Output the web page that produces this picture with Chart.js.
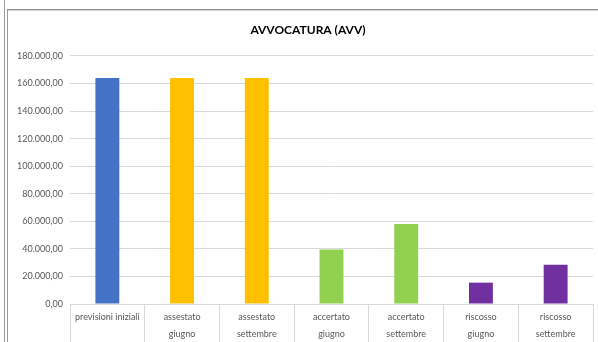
<!DOCTYPE html>
<html>
<head>
<meta charset="utf-8">
<script src="https://cdn.jsdelivr.net/npm/chart.js@4/dist/chart.umd.min.js"></script>
<style>
  html, body { margin: 0; padding: 0; background: #ffffff; }
  body { width: 598px; height: 342px; position: relative; overflow: hidden; }
  .vline1 { position: absolute; left: 4px; top: 0; width: 1px; height: 342px; background: #9c9c9c; }
  .vline2 { position: absolute; left: 7px; top: 9px; width: 1px; height: 333px; background: #9c9c9c; }
  .hline { position: absolute; left: 7px; top: 9px; width: 591px; height: 1px; background: #8f8f8f; }
  .hline2 { position: absolute; left: 8px; top: 10px; width: 590px; height: 1px; background: #d6d6d6; }
  #wrap { position: absolute; left: 8px; top: 10px; width: 590px; height: 332px; }
</style>
</head>
<body>
<div class="vline1"></div>
<div class="vline2"></div>
<div class="hline"></div>
<div class="hline2"></div>
<div id="wrap"><canvas id="c"></canvas></div>
<script>
const chartTitle = "AVVOCATURA (AVV)";
const categories = [
  ["previsioni iniziali"],
  ["assestato", "giugno"],
  ["assestato", "settembre"],
  ["accertato", "giugno"],
  ["accertato", "settembre"],
  ["riscosso", "giugno"],
  ["riscosso", "settembre"]
];
const values = [164000, 164000, 164000, 39500, 58000, 15500, 28500];
const barColors = ["#4472C4", "#FFC000", "#FFC000", "#92D050", "#92D050", "#7030A0", "#7030A0"];
const yMin = 0, yMax = 180000, yStep = 20000;

function fmtIt(v) {
  const neg = v < 0;
  const s = Math.abs(v).toFixed(2);
  let [intPart, dec] = s.split(".");
  intPart = intPart.replace(/\B(?=(\d{3})+(?!\d))/g, ".");
  return (neg ? "-" : "") + intPart + "," + dec;
}

new Chart(document.getElementById("c"), {
  type: "bar",
  data: {
    labels: categories,
    datasets: [{
      data: values,
      backgroundColor: barColors,
      borderWidth: 0,
      categoryPercentage: 1,
      barPercentage: 0.32
    }]
  },
  options: {
    responsive: true,
    maintainAspectRatio: false,
    animation: false,
    layout: { padding: { left: 15, right: 5, top: 0, bottom: 0 } },
    plugins: {
      legend: { display: false },
      tooltip: { enabled: false },
      title: {
        display: true,
        text: chartTitle,
        color: "#000000",
        font: { family: "Lato", size: 12, weight: "bold", lineHeight: 1.2 },
        padding: { top: 13, bottom: 18.5 }
      }
    },
    scales: {
      x: {
        border: { display: false },
        grid: {
          offset: true,
          drawOnChartArea: false,
          drawTicks: true,
          tickLength: 40,
          color: "#d9d9d9",
          lineWidth: 1
        },
        ticks: {
          color: "#595959",
          font: { family: "Lato", size: 9, lineHeight: "17px" },
          padding: -35,
          maxRotation: 0,
          autoSkip: false
        },
        afterFit: (s) => { s.height = 38; }
      },
      y: {
        min: yMin,
        max: yMax,
        border: { display: false },
        grid: { color: "#d9d9d9", lineWidth: 1, drawTicks: false },
        ticks: {
          stepSize: yStep,
          color: "#595959",
          font: { family: "Lato", size: 9 },
          mirror: true,
          crossAlign: "far",
          padding: -53,
          callback: (v) => fmtIt(v)
        },
        afterFit: (s) => { s.width = 47; }
      }
    }
  }
});
</script>
</body>
</html>
